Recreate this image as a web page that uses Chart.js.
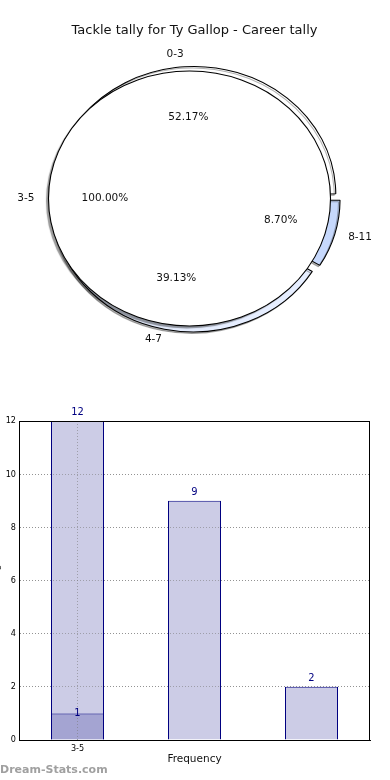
<!DOCTYPE html>
<html>
<head>
<meta charset="utf-8">
<script src="https://cdn.jsdelivr.net/npm/chart.js@4.4.0/dist/chart.umd.min.js"></script>
<style>
  body { margin: 0; background: #fff; }
  #wrap { position: relative; width: 390px; height: 780px; overflow: hidden; font-family: 'DejaVu Sans', sans-serif; }
  #titulo { position: absolute; top: 22px; left: 0; width: 389px; text-align: center; font-size: 13px; line-height: 16px; color: #111; }
  canvas { position: absolute; }
  #pieBack, #pieFront { left: 0; top: 0; }
  #bars { left: -6px; top: 380px; }
  #marca { position: absolute; left: 0; top: 763px; font-size: 11px; line-height: 14px; font-weight: bold; color: #a0a0a0; }
</style>
</head>
<body>
<div id="wrap">
  <canvas id="pieBack" width="390" height="380"></canvas>
  <canvas id="pieFront" width="390" height="380"></canvas>
  <div id="titulo">Tackle tally for Ty Gallop - Career tally</div>
  <canvas id="bars" width="396" height="400"></canvas>
  <div id="marca">Dream-Stats.com</div>
</div>
<script>
// datos
const pieLabels = ['0-3', '4-7', '8-11'];
const pieValues = [12, 9, 2];
const discLabels = ['3-5'];
const discValues = [1];

const barLabels = ['3-5', '', ''];
const careerValues = [12, 9, 2];
const overlayValues = [1, null, null];
const yTicks = [0, 2, 4, 6, 8, 10, 12];

const ESTIRA = 1.106; // el pie es una elipse
const fuentePie = '10.5px "DejaVu Sans"';

// estira los arcos en horizontal y les pone sombra
const estirar = {
  id: 'estirar',
  beforeDatasetsDraw(chart, args, opts) {
    const arc = chart.getDatasetMeta(0).data[0];
    const c = chart.ctx;
    c.save();
    c.translate(arc.x, arc.y);
    c.scale(ESTIRA, 1);
    c.translate(-arc.x, -arc.y);
    c.shadowColor = opts.sombra;
    c.shadowOffsetX = opts.dx;
    c.shadowOffsetY = opts.dy;
    c.shadowBlur = opts.blur;
  },
  afterDatasetsDraw(chart, args, opts) {
    const c = chart.ctx;
    if (opts.contorno) {
      // borde sin la linea radial del circulo completo
      c.shadowColor = 'transparent';
      c.lineWidth = 1;
      c.strokeStyle = '#000';
      chart.getDatasetMeta(0).data.forEach(arc => {
        c.beginPath();
        c.arc(arc.x, arc.y, arc.outerRadius, arc.startAngle, arc.endAngle);
        c.stroke();
      });
    }
    c.restore();
  }
};

function dibujarEtiquetas(c, chart, r, e) {
  const meta = chart.getDatasetMeta(0);
  const data = chart.data.datasets[0].data;
  const labels = chart.data.labels;
  const total = data.reduce((a, b) => a + b, 0);
  meta.data.forEach((arc, i) => {
    const mid = (arc.startAngle + arc.endAngle) / 2;
    const dx = Math.cos(mid), dy = Math.sin(mid);
    // porcentaje
    c.textAlign = 'center';
    c.fillText((data[i] / total * 100).toFixed(2) + '%',
      arc.x + ESTIRA * (e + 0.6 * r) * dx, arc.y + (e + 0.6 * r) * dy);
    // nombre
    c.textAlign = dx > 0 ? 'left' : 'right';
    c.fillText(labels[i], arc.x + ESTIRA * (e + 1.1 * r) * dx, arc.y + (e + 1.1 * r) * dy);
  });
}

const etiquetas = {
  id: 'etiquetas',
  afterDraw(chart) {
    const c = chart.ctx;
    c.save();
    c.font = fuentePie;
    c.fillStyle = '#111';
    c.textBaseline = 'middle';
    dibujarEtiquetas(c, pieAtras, 126.6, 5);
    dibujarEtiquetas(c, chart, 127.5, 0);
    c.restore();
  }
};

const pieAtras = new Chart(document.getElementById('pieBack'), {
  type: 'pie',
  data: {
    labels: pieLabels.slice().reverse(),
    datasets: [{
      data: pieValues.slice().reverse(),
      backgroundColor: ['#c6d8fc', '#e6eeff', '#ffffff'],
      borderColor: '#000',
      borderWidth: 1,
      offset: [21, 28, 16]
    }]
  },
  options: {
    responsive: false,
    animation: false,
    events: [],
    rotation: 90,
    radius: 124,
    layout: { padding: { left: 0, right: 1, top: 17, bottom: 0 } },
    plugins: {
      legend: { display: false },
      tooltip: { enabled: false },
      estirar: { sombra: 'rgba(0,0,0,0.3)', dx: -1.5, dy: 1.5, blur: 0 }
    }
  },
  plugins: [estirar]
});

const pieFrente = new Chart(document.getElementById('pieFront'), {
  type: 'pie',
  data: {
    labels: discLabels,
    datasets: [{
      data: discValues,
      backgroundColor: '#ffffff',
      borderWidth: 0
    }]
  },
  options: {
    responsive: false,
    animation: false,
    events: [],
    rotation: 90,
    radius: 127.5,
    layout: { padding: { left: 0, right: 11, top: 17, bottom: 0 } },
    plugins: {
      legend: { display: false },
      tooltip: { enabled: false },
      estirar: { sombra: 'rgba(0,0,0,0.4)', dx: -2.5, dy: 2.5, blur: 1, contorno: true }
    }
  },
  plugins: [estirar, etiquetas]
});

// barras
const gris = 'rgba(120,120,120,0.55)';
const fuenteChica = { family: '"DejaVu Sans Condensed", "DejaVu Sans"', size: 9 };

const valores = {
  id: 'valores',
  afterDatasetsDraw(chart) {
    // la rejilla punteada va encima de las barras
    chart.scales.y.drawGrid(chart.chartArea);
    chart.scales.x.drawGrid(chart.chartArea);
  },
  afterDraw(chart) {
    const c = chart.ctx;
    const a = chart.chartArea;
    c.save();
    c.strokeStyle = '#000';
    c.lineWidth = 1;
    c.strokeRect(a.left + 0.5, a.top + 0.5, a.right - a.left - 1, a.bottom - a.top);
    c.font = '11px "DejaVu Sans Condensed", "DejaVu Sans"';
    c.fillStyle = '#000080';
    c.textAlign = 'center';
    c.textBaseline = 'middle';
    chart.data.datasets.forEach((ds, d) => {
      chart.getDatasetMeta(d).data.forEach((bar, i) => {
        if (ds.data[i] == null) return;
        c.fillText(ds.data[i], bar.x, bar.y + ds.labelOffset);
      });
    });
    c.restore();
  }
};

new Chart(document.getElementById('bars'), {
  type: 'bar',
  data: {
    labels: barLabels,
    datasets: [
      {
        data: overlayValues,
        backgroundColor: '#a4a4d2',
        borderColor: '#000080',
        borderWidth: 1,
        grouped: false,
        barPercentage: 53 / 117,
        categoryPercentage: 1,
        labelOffset: 0
      },
      {
        data: careerValues,
        backgroundColor: '#ccccE6',
        borderColor: '#000080',
        borderWidth: 1,
        grouped: false,
        barPercentage: 53 / 117,
        categoryPercentage: 1,
        labelOffset: -9
      }
    ]
  },
  options: {
    responsive: false,
    animation: false,
    events: [],
    layout: { padding: { top: 41, right: 20, bottom: 14, left: 0 } },
    plugins: { legend: { display: false }, tooltip: { enabled: false } },
    scales: {
      x: {
        afterFit(scale) { scale.height = 26; },
        grid: { offset: false, drawTicks: false, color: ctx => ctx.index === 0 ? gris : 'transparent' },
        border: { color: '#000', dash: [1, 2] },
        ticks: { font: fuenteChica, color: '#000', padding: 3, maxRotation: 0 },
        title: { display: true, text: 'Frequency', color: '#111', font: { family: 'DejaVu Sans', size: 10.5 }, padding: 0 }
      },
      y: {
        min: yTicks[0],
        max: yTicks[yTicks.length - 1],
        afterFit(scale) { scale.width = 25; },
        grid: { drawTicks: false, color: gris },
        border: { color: '#000', dash: [1, 2] },
        ticks: { stepSize: yTicks[1] - yTicks[0], font: fuenteChica, color: '#000', padding: 3 },
        title: { display: true, text: 'Number of games', color: '#111', font: { family: 'DejaVu Sans', size: 9 }, padding: { top: -3, bottom: 0 } }
      }
    }
  },
  plugins: [valores]
});
</script>
</body>
</html>
